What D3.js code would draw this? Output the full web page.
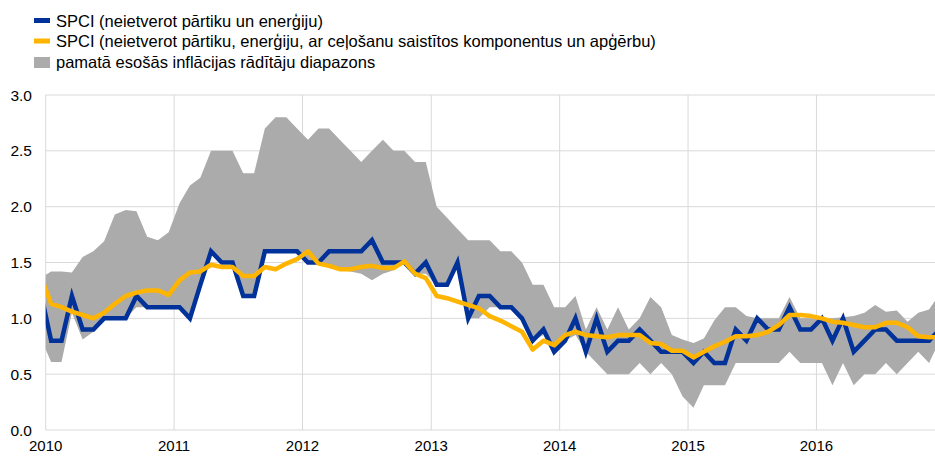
<!DOCTYPE html>
<html>
<head>
<meta charset="utf-8">
<script src="https://cdn.jsdelivr.net/npm/d3@7"></script>
<style>
  html, body { margin: 0; padding: 0; background: #fff; }
  svg { display: block; font-family: "Liberation Sans", Arial, sans-serif; }
</style>
</head>
<body>
<svg id="chart" width="935" height="458"></svg>
<script>
// Months: Dec 2009 … Dec 2016 (first point sits just left of the axis and is clipped)
const months = d3.timeMonth.range(new Date(2009, 11, 1), new Date(2017, 0, 1));

const yearTicks = ["2010", "2011", "2012", "2013", "2014", "2015", "2016"];
const yTicks = [0.0, 0.5, 1.0, 1.5, 2.0, 2.5, 3.0];

const legendLabels = [
  "SPCI (neietverot pārtiku un enerģiju)",
  "SPCI (neietverot pārtiku, enerģiju, ar ceļošanu saistītos komponentus un apģērbu)",
  "pamatā esošās inflācijas rādītāju diapazons"
];

// SPCI excl. food and energy
const spciExFE = [1.25,
  0.8, 0.8, 1.2, 0.9, 0.9, 1.0, 1.0, 1.0, 1.2, 1.1, 1.1, 1.1,
  1.1, 1.0, 1.3, 1.6, 1.5, 1.5, 1.2, 1.2, 1.6, 1.6, 1.6, 1.6,
  1.5, 1.5, 1.6, 1.6, 1.6, 1.6, 1.7, 1.5, 1.5, 1.5, 1.4, 1.5,
  1.3, 1.3, 1.5, 1.0, 1.2, 1.2, 1.1, 1.1, 1.0, 0.8, 0.9, 0.7,
  0.8, 1.0, 0.7, 1.0, 0.7, 0.8, 0.8, 0.9, 0.8, 0.7, 0.7, 0.7,
  0.6, 0.7, 0.6, 0.6, 0.9, 0.8, 1.0, 0.9, 0.9, 1.1, 0.9, 0.9,
  1.0, 0.8, 1.0, 0.7, 0.8, 0.9, 0.9, 0.8, 0.8, 0.8, 0.8, 0.9];

// SPCI excl. food, energy, travel-related items and clothing
const spciExFETC = [1.39,
  1.13, 1.10, 1.06, 1.03, 1.00, 1.05, 1.13, 1.20, 1.23, 1.25, 1.25, 1.21,
  1.34, 1.41, 1.42, 1.48, 1.46, 1.46, 1.38, 1.38, 1.46, 1.44, 1.49, 1.53,
  1.60, 1.49, 1.47, 1.44, 1.44, 1.46, 1.47, 1.45, 1.45, 1.51, 1.40, 1.36,
  1.20, 1.18, 1.15, 1.12, 1.09, 1.02, 0.98, 0.93, 0.88, 0.72, 0.80, 0.76,
  0.85, 0.88, 0.85, 0.84, 0.83, 0.85, 0.85, 0.85, 0.78, 0.77, 0.71, 0.71,
  0.65, 0.70, 0.75, 0.79, 0.84, 0.84, 0.85, 0.88, 0.94, 1.03, 1.03, 1.02,
  1.00, 0.97, 0.96, 0.94, 0.92, 0.92, 0.96, 0.96, 0.92, 0.84, 0.83, 0.83];

// Range of underlying inflation measures
const rangeMax = [1.36,
  1.42, 1.42, 1.41, 1.55, 1.60, 1.69, 1.93, 1.97, 1.96, 1.73, 1.70, 1.77,
  2.03, 2.19, 2.26, 2.50, 2.50, 2.50, 2.30, 2.30, 2.70, 2.80, 2.80, 2.70,
  2.60, 2.70, 2.70, 2.60, 2.50, 2.40, 2.50, 2.60, 2.50, 2.50, 2.40, 2.40,
  2.00, 1.90, 1.80, 1.70, 1.70, 1.70, 1.60, 1.60, 1.50, 1.30, 1.30, 1.10,
  1.10, 1.20, 0.90, 1.10, 0.90, 1.10, 0.90, 1.00, 1.19, 1.10, 0.85, 0.81,
  0.78, 0.82, 0.98, 1.10, 1.10, 1.02, 1.00, 1.00, 1.00, 1.19, 1.00, 1.00,
  1.00, 1.00, 1.01, 1.02, 1.05, 1.12, 1.06, 1.07, 0.97, 1.05, 1.08, 1.22];

const rangeMin = [0.83,
  0.61, 0.61, 1.05, 0.81, 0.88, 1.0, 1.0, 1.0, 1.1, 1.1, 1.1, 1.1,
  1.1, 1.0, 1.3, 1.6, 1.5, 1.5, 1.2, 1.2, 1.6, 1.6, 1.6, 1.6,
  1.5, 1.5, 1.45, 1.43, 1.42, 1.40, 1.34, 1.40, 1.43, 1.5, 1.4, 1.4,
  1.3, 1.3, 1.5, 1.0, 1.0, 1.1, 1.1, 1.1, 1.0, 0.8, 0.85, 0.7,
  0.8, 0.85, 0.7, 0.6, 0.5, 0.5, 0.5, 0.6, 0.5, 0.6, 0.5, 0.3,
  0.2, 0.4, 0.4, 0.4, 0.6, 0.6, 0.6, 0.6, 0.6, 0.7, 0.6, 0.6,
  0.6, 0.4, 0.6, 0.4, 0.5, 0.5, 0.6, 0.5, 0.6, 0.7, 0.6, 0.8];

const colors = { blue: "#003299", yellow: "#FFB400", grey: "#ABABAB", grid: "#D9D9D9", text: "#000000" };

const svg = d3.select("#chart");
const plotLeft = 45.7, plotRight = 935, plotTop = 95, plotBottom = 430;

const x = d3.scaleTime()
  .domain([new Date(2010, 0, 1), new Date(2017, 0, 1)])
  .range([plotLeft, 945.2]);
const y = d3.scaleLinear().domain([0, 3]).range([plotBottom, plotTop]);

// point position: middle of the month
const mid = m => {
  const a = x(m), b = x(d3.timeMonth.offset(m, 1));
  return (a + b) / 2;
};

const data = months.map((m, i) => ({
  m, blue: spciExFE[i], yellow: spciExFETC[i], lo: rangeMin[i], hi: rangeMax[i]
}));

svg.append("defs").append("clipPath").attr("id", "plotclip")
  .append("rect").attr("x", plotLeft).attr("y", 0).attr("width", plotRight - plotLeft).attr("height", 458);

// grid
const grid = svg.append("g");
grid.selectAll("line.h").data(yTicks).join("line")
  .attr("class", "h")
  .attr("x1", plotLeft).attr("x2", plotRight)
  .attr("y1", d => y(d)).attr("y2", d => y(d))
  .attr("stroke", colors.grid).attr("stroke-width", 1);
grid.selectAll("line.v").data(yearTicks).join("line")
  .attr("class", "v")
  .attr("x1", d => x(new Date(+d, 0, 1))).attr("x2", d => x(new Date(+d, 0, 1)))
  .attr("y1", y(3)).attr("y2", y(0))
  .attr("stroke", colors.grid).attr("stroke-width", 1);

const plot = svg.append("g").attr("clip-path", "url(#plotclip)");

// range area
plot.append("path").datum(data)
  .attr("fill", colors.grey)
  .attr("d", d3.area().x(d => mid(d.m)).y0(d => y(d.lo)).y1(d => y(d.hi)));

// lines
plot.append("path").datum(data)
  .attr("fill", "none").attr("stroke", colors.blue).attr("stroke-width", 4.5)
  .attr("stroke-linejoin", "miter")
  .attr("d", d3.line().x(d => mid(d.m)).y(d => y(d.blue)));
plot.append("path").datum(data)
  .attr("fill", "none").attr("stroke", colors.yellow).attr("stroke-width", 4.5)
  .attr("stroke-linejoin", "round")
  .attr("d", d3.line().x(d => mid(d.m)).y(d => y(d.yellow)));

// y labels
svg.append("g").selectAll("text").data(yTicks).join("text")
  .attr("x", 32).attr("y", d => y(d)).attr("dy", "0.36em")
  .attr("text-anchor", "end").attr("font-size", 15.5).attr("fill", colors.text)
  .text(d => d.toFixed(1));

// x labels
svg.append("g").selectAll("text").data(yearTicks).join("text")
  .attr("x", d => x(new Date(+d, 0, 1))).attr("y", 451)
  .attr("text-anchor", "middle").attr("font-size", 15).attr("fill", colors.text)
  .text(d => d);

// legend
const lg = svg.append("g");
const swatches = [
  { c: colors.blue, y: 18, h: 5 },
  { c: colors.yellow, y: 38.5, h: 5 },
  { c: colors.grey, y: 57, h: 11 }
];
lg.selectAll("rect").data(swatches).join("rect")
  .attr("x", 34).attr("y", d => d.y).attr("width", 16).attr("height", d => d.h)
  .attr("fill", d => d.c);
lg.selectAll("text").data(legendLabels).join("text")
  .attr("x", 56).attr("y", (d, i) => 26.5 + i * 20.5)
  .attr("font-size", 16.5).attr("fill", colors.text)
  .text(d => d);
</script>
</body>
</html>
